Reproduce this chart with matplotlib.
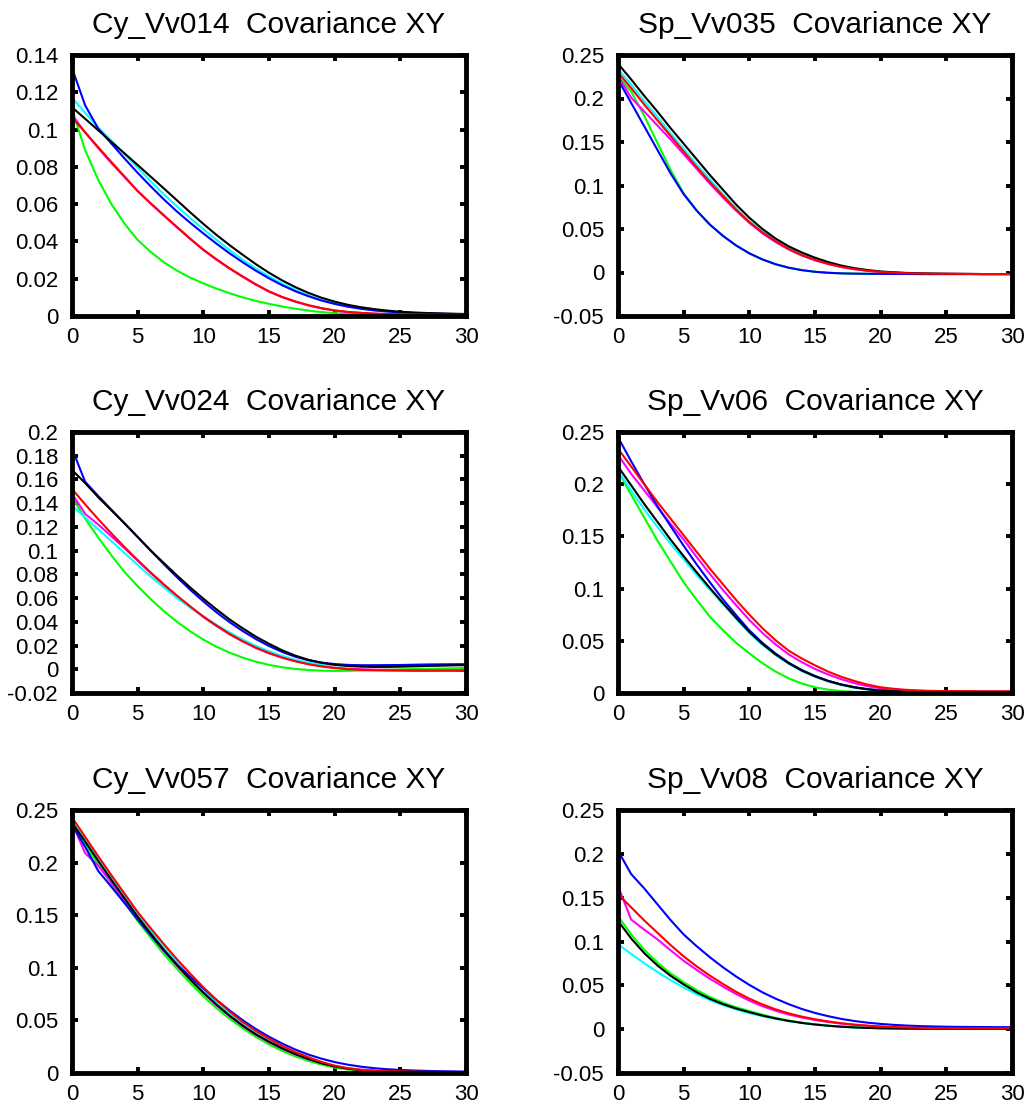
import numpy as np
import matplotlib
matplotlib.use('Agg')
import matplotlib.pyplot as plt
from matplotlib.ticker import FuncFormatter, FixedLocator

plt.rcParams['font.family'] = ['Liberation Sans', 'DejaVu Sans']

lags = list(range(31))
xticks = [0, 5, 10, 15, 20, 25, 30]

# ---------------- Cy_Vv014 ----------------
cy014_red = [.1066,.0985,.0905,.0826,.0748,.0670,.0604,.0540,.0477,.0415,.0356,.0304,.0256,.0212,.0170,.0132,.0102,.0078,.0058,.0042,.0030,.0022,.0017,.0013,.0011,.0009,.0008,.0008,.0007,.0007,.0007]
cy014_magenta = [.1080,.0985,.0900,.0820,.0745,.0670,.0602,.0538,.0475,.0413,.0354,.0302,.0254,.0210,.0168,.0131,.0101,.0077,.0057,.0041,.0029,.0021,.0016,.0012,.0010,.0009,.0008,.0008,.0007,.0007,.0007]
cy014_green = [.1110,.0890,.0730,.0600,.0495,.0408,.0343,.0288,.0243,.0206,.0175,.0147,.0122,.0100,.0081,.0065,.0051,.0039,.0029,.0021,.0015,.0011,.0009,.0008,.0007,.0007,.0007,.0007,.0007,.0007,.0007]
cy014_blue = [.1330,.1130,.1005,.0925,.0845,.0768,.0695,.0625,.0560,.0500,.0443,.0388,.0336,.0288,.0243,.0202,.0165,.0133,.0106,.0083,.0065,.0050,.0039,.0030,.0024,.0019,.0016,.0014,.0012,.0011,.0010]
cy014_black = [.1120,.1058,.0996,.0934,.0872,.0810,.0747,.0684,.0620,.0556,.0494,.0435,.0380,.0328,.0278,.0232,.0191,.0155,.0124,.0098,.0077,.0060,.0047,.0037,.0029,.0023,.0019,.0016,.0014,.0012,.0011]
cy014_cyan = [.1170,.1090,.1010,.0940,.0868,.0795,.0722,.0652,.0587,.0525,.0465,.0408,.0353,.0302,.0255,.0212,.0174,.0140,.0111,.0086,.0066,.0051,.0040,.0031,.0024,.0019,.0016,.0014,.0012,.0011,.0010]

# ---------------- Sp_Vv035 ----------------
sp035_black = [.240,.222,.203,.185,.166,.148,.130,.112,.095,.078,.063,.050,.039,.030,.023,.017,.012,.008,.005,.0028,.0012,.0002,-.0005,-.0010,-.0013,-.0015,-.0016,-.0017,-.0018,-.0018,-.0018]
sp035_cyan = [.234,.216,.197,.179,.160,.142,.124,.107,.090,.074,.059,.047,.037,.028,.021,.0155,.011,.007,.0043,.0023,.0009,.0000,-.0006,-.0010,-.0013,-.0015,-.0016,-.0017,-.0018,-.0018,-.0018]
sp035_red = [.230,.212,.193,.175,.157,.139,.121,.104,.088,.072,.058,.046,.036,.027,.020,.0145,.010,.0065,.004,.002,.0007,-.0002,-.0008,-.0012,-.0014,-.0015,-.0016,-.0017,-.0018,-.0018,-.0018]
sp035_magenta = [.226,.201,.185,.169,.153,.136,.119,.102,.086,.071,.057,.045,.035,.0265,.0195,.014,.0097,.0063,.0038,.0019,.0006,-.0003,-.0008,-.0012,-.0014,-.0015,-.0016,-.0017,-.0018,-.0018,-.0018]
sp035_blue = [.222,.195,.168,.141,.114,.090,.071,.055,.042,.031,.022,.015,.0095,.0055,.0027,.0008,-.0003,-.0010,-.0013,-.0015,-.0016,-.0017,-.0017,-.0018,-.0018,-.0018,-.0018,-.0018,-.0018,-.0018,-.0018]
sp035_green = [.226,.208,.180,.149,.118,.091,.071,.055,.042,.031,.022,.015,.0095,.0055,.0027,.0008,-.0003,-.0010,-.0013,-.0015,-.0016,-.0017,-.0017,-.0018,-.0018,-.0018,-.0018,-.0018,-.0018,-.0018,-.0018]

# ---------------- Cy_Vv024 ----------------
cy024_black = [.168,.157,.145,.134,.123,.1115,.100,.0895,.079,.069,.0595,.0505,.042,.0345,.0275,.0215,.016,.0115,.008,.0055,.0038,.0028,.0022,.002,.002,.0022,.0025,.0028,.003,.0033,.0035]
cy024_blue = [.186,.158,.146,.1345,.123,.1115,.1000,.0885,.0775,.0670,.0572,.0480,.0397,.0322,.0255,.0196,.0146,.0106,.0076,.0056,.0044,.0037,.0034,.0034,.0035,.0036,.0038,.0040,.0041,.0042,.0043]
cy024_red = [.152,.139,.1265,.1145,.103,.092,.0815,.0715,.062,.053,.0445,.0368,.0298,.0236,.0182,.0137,.0099,.0068,.0043,.0024,.001,.0001,-.0005,-.0009,-.0011,-.0012,-.0013,-.0013,-.0013,-.0013,-.0014]
cy024_magenta = [.148,.131,.122,.112,.102,.0915,.081,.071,.0615,.0525,.044,.0365,.0295,.0235,.018,.0135,.0098,.0068,.0044,.0026,.0013,.0005,0,-.0003,-.0005,-.0006,-.0007,-.0007,-.0007,-.0007,-.0007]
cy024_cyan = [.138,.128,.118,.108,.098,.088,.078,.069,.060,.052,.0445,.0375,.031,.025,.0198,.0152,.0112,.008,.0056,.0041,.0033,.003,.003,.0031,.0033,.0035,.0037,.0039,.004,.0041,.0042]
cy024_green = [.145,.127,.111,.096,.082,.070,.059,.049,.040,.032,.025,.019,.014,.0098,.0064,.0037,.0017,.0003,-.0006,-.0012,-.0014,-.0013,-.0010,-.0007,-.0004,-.0001,.0002,.0004,.0006,.0008,.0010]

# ---------------- Sp_Vv06 ----------------
sp06_red = [.234,.217,.200,.183,.167,.151,.135,.119,.104,.089,.075,.062,.0505,.0405,.033,.0265,.0205,.0155,.0115,.008,.0055,.004,.003,.0024,.002,.0018,.0017,.0017,.0016,.0016,.0016]
sp06_magenta = [.228,.210,.194,.178,.162,.147,.130,.114,.0985,.084,.070,.0575,.0465,.037,.0295,.023,.0177,.0132,.0095,.0065,.0044,.0031,.0024,.002,.0017,.0016,.0015,.0015,.0015,.0015,.0015]
sp06_blue = [.245,.222,.200,.179,.160,.141,.123,.106,.0895,.0745,.060,.048,.0378,.029,.022,.0163,.0117,.0082,.0056,.0037,.0024,.0016,.0012,.001,.001,.001,.001,.001,.001,.001,.001]
sp06_black = [.217,.199,.181,.164,.147,.131,.1155,.1005,.086,.072,.0585,.047,.037,.0285,.0215,.016,.0115,.008,.0054,.0036,.0023,.0016,.0012,.001,.001,.001,.001,.001,.001,.001,.001]
sp06_cyan = [.213,.194,.176,.159,.143,.128,.113,.099,.085,.071,.0575,.046,.0363,.028,.021,.0155,.011,.0076,.005,.0032,.0021,.0015,.0011,.001,.001,.001,.001,.001,.001,.001,.001]
sp06_green = [.213,.190,.168,.146,.126,.106,.089,.073,.060,.048,.038,.0285,.0205,.014,.009,.0055,.0032,.0018,.0011,.0008,.0007,.0007,.0007,.0007,.0007,.0007,.0007,.0007,.0007,.0007,.0007]

# ---------------- Cy_Vv057 ----------------
cy057_red = [.243,.2245,.206,.188,.1705,.153,.1375,.1225,.108,.0945,.0815,.0695,.0585,.0485,.0400,.0326,.0258,.0200,.0150,.0105,.0070,.0045,.0030,.0021,.0017,.0015,.0013,.0011,.0010,.0009,.0008]
cy057_cyan = [.240,.222,.2035,.1855,.168,.1505,.135,.120,.1055,.092,.079,.067,.0565,.047,.0385,.031,.0245,.019,.0142,.0100,.0067,.0044,.0030,.0022,.0017,.0015,.0013,.0011,.0010,.0009,.0008]
cy057_black = [.238,.220,.2015,.1835,.166,.1485,.1325,.117,.1025,.089,.0765,.065,.0545,.045,.0368,.0298,.0235,.018,.0133,.0093,.0062,.0041,.0027,.0019,.0015,.0013,.0011,.0010,.0009,.0008,.0008]
cy057_green = [.236,.217,.198,.180,.162,.1445,.1285,.113,.099,.0855,.073,.0617,.0515,.0425,.0343,.0272,.021,.0158,.0115,.008,.0052,.0033,.0022,.0016,.0013,.0011,.0010,.0009,.0008,.0008,.0008]
cy057_blue = [.236,.215,.192,.177,.1615,.146,.131,.1165,.103,.0915,.0805,.0695,.0595,.0502,.0418,.0345,.0280,.0223,.0175,.0136,.0104,.0079,.0060,.0046,.0036,.0029,.0024,.0020,.0017,.0015,.0013]
cy057_magenta = [.238,.209,.197,.181,.164,.147,.1315,.116,.102,.0885,.076,.0645,.054,.0447,.0363,.0292,.023,.0177,.0132,.0095,.0065,.0045,.0032,.0024,.0019,.0016,.0014,.0013,.0012,.0011,.0010]

# ---------------- Sp_Vv08 ----------------
sp08_blue = [.2035,.177,.1605,.1425,.1245,.108,.0945,.082,.0705,.060,.0505,.042,.0348,.0285,.023,.0185,.0148,.0117,.0093,.0074,.006,.0049,.0041,.0035,.0031,.0028,.0026,.0025,.0024,.0023,.0023]
sp08_red = [.154,.139,.124,.110,.096,.083,.0715,.061,.0515,.0425,.0348,.0282,.0226,.0180,.0143,.0113,.0088,.0068,.0052,.0040,.0031,.0024,.0019,.0015,.0013,.0011,.0010,.0010,.0010,.0010,.0010]
sp08_magenta = [.1635,.125,.1135,.1025,.0900,.078,.0675,.0575,.0485,.0400,.0325,.0262,.0210,.0167,.0133,.0105,.0082,.0063,.0048,.0037,.0028,.0021,.0016,.0013,.0011,.0010,.0009,.0009,.0009,.0009,.0009]
sp08_green = [.129,.108,.0905,.076,.0637,.0535,.0445,.0368,.0302,.0250,.0206,.0165,.0128,.0098,.0074,.0055,.004,.0029,.0021,.0015,.0011,.0008,.0006,.0005,.0004,.0004,.0003,.0003,.0003,.0003,.0003]
sp08_black = [.1235,.1035,.0867,.0727,.0609,.0510,.0420,.0346,.0285,.0235,.0194,.0155,.0122,.0094,.0071,.0053,.0039,.0028,.0020,.0014,.0010,.0008,.0006,.0005,.0004,.0004,.0003,.0003,.0003,.0003,.0003]
sp08_cyan = [.097,.0858,.0752,.0652,.0560,.0475,.0398,.0332,.0275,.0225,.0183,.0148,.0118,.0092,.0071,.0054,.0040,.0029,.0021,.0015,.0010,.0007,.0005,.0004,.0003,.0003,.0003,.0003,.0003,.0003,.0003]

titles = ["Cy_Vv014  Covariance XY", "Sp_Vv035  Covariance XY",
          "Cy_Vv024  Covariance XY", "Sp_Vv06  Covariance XY",
          "Cy_Vv057  Covariance XY", "Sp_Vv08  Covariance XY"]

yticks_cy014 = [0, 0.02, 0.04, 0.06, 0.08, 0.1, 0.12, 0.14]
yticks_sp035 = [-0.05, 0, 0.05, 0.1, 0.15, 0.2, 0.25]
yticks_cy024 = [-0.02, 0, 0.02, 0.04, 0.06, 0.08, 0.1, 0.12, 0.14, 0.16, 0.18, 0.2]
yticks_sp06 = [0, 0.05, 0.1, 0.15, 0.2, 0.25]
yticks_cy057 = [0, 0.05, 0.1, 0.15, 0.2, 0.25]
yticks_sp08 = [-0.05, 0, 0.05, 0.1, 0.15, 0.2, 0.25]

panels = [
    (titles[0], yticks_cy014, dict(green=cy014_green, magenta=cy014_magenta, cyan=cy014_cyan,
                                   blue=cy014_blue, black=cy014_black, red=cy014_red)),
    (titles[1], yticks_sp035, dict(green=sp035_green, magenta=sp035_magenta, cyan=sp035_cyan,
                                   blue=sp035_blue, black=sp035_black, red=sp035_red)),
    (titles[2], yticks_cy024, dict(green=cy024_green, magenta=cy024_magenta, cyan=cy024_cyan,
                                   blue=cy024_blue, black=cy024_black, red=cy024_red)),
    (titles[3], yticks_sp06, dict(green=sp06_green, magenta=sp06_magenta, cyan=sp06_cyan,
                                  blue=sp06_blue, black=sp06_black, red=sp06_red)),
    (titles[4], yticks_cy057, dict(green=cy057_green, magenta=cy057_magenta, cyan=cy057_cyan,
                                   blue=cy057_blue, black=cy057_black, red=cy057_red)),
    (titles[5], yticks_sp08, dict(green=sp08_green, magenta=sp08_magenta, cyan=sp08_cyan,
                                  blue=sp08_blue, black=sp08_black, red=sp08_red)),
]

colors = {'red': '#ff0000', 'green': '#00ff00', 'blue': '#0000ff',
          'magenta': '#ff00ff', 'cyan': '#00ffff', 'black': '#000000'}

W, H = 1035, 1109
fig = plt.figure(figsize=(W / 100, H / 100), dpi=100)

col_left = [72, 618]
ax_w = 394
rows = [(55, 316), (432, 693), (810, 1073)]

fmt = FuncFormatter(lambda v, p: '%g' % round(v, 6))

for i, (title, yt, series) in enumerate(panels):
    r, c = divmod(i, 2)
    top, bot = rows[r]
    ax = fig.add_axes([col_left[c] / W, 1 - bot / H, ax_w / W, (bot - top) / H])
    for name, vals in series.items():
        ax.plot(np.arange(len(vals)), vals, color=colors[name], lw=1.5)
    ax.set_xlim(0, 30)
    ax.set_ylim(yt[0], yt[-1])
    ax.xaxis.set_major_locator(FixedLocator(xticks))
    ax.yaxis.set_major_locator(FixedLocator(yt))
    ax.xaxis.set_major_formatter(fmt)
    ax.yaxis.set_major_formatter(fmt)
    for s in ax.spines.values():
        s.set_linewidth(3.5)
    ax.tick_params(direction='in', length=4, width=2.8, top=True, right=True,
                   labelsize=16, colors='black')
    ax.tick_params(axis='x', pad=8)
    ax.tick_params(axis='y', pad=10)
    ax.set_title(title, fontsize=21.5, pad=16)

fig.savefig('out.png', dpi=100)
